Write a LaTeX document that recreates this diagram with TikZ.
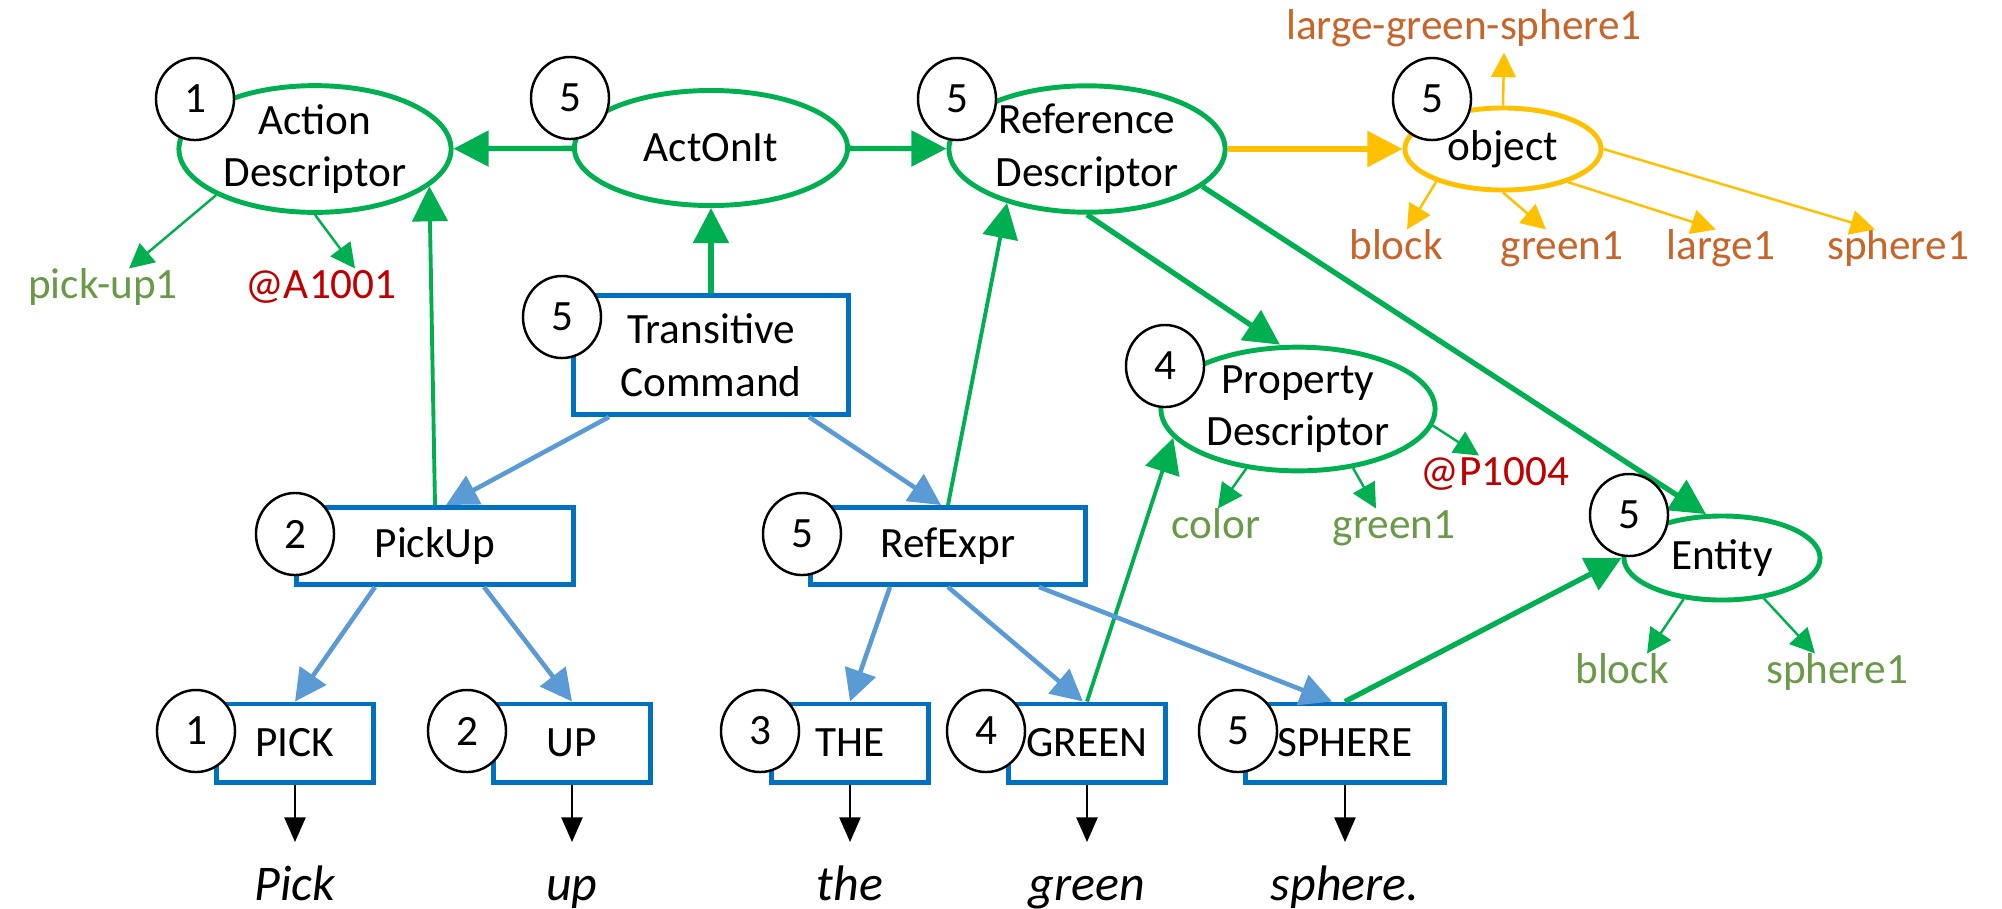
\documentclass[tikz,border=0pt]{standalone}
\usepackage{fontspec}
\setmainfont{Carlito}
\usetikzlibrary{shapes.geometric,arrows.meta}
\definecolor{dgreen}{HTML}{00B050}
\definecolor{lblue}{HTML}{5B9BD5}
\definecolor{bblue}{HTML}{0070C0}
\definecolor{gold}{HTML}{FFC000}
\definecolor{otext}{HTML}{C8652A}
\definecolor{gtext}{HTML}{6A9A48}
\definecolor{rtext}{HTML}{C00000}

\begin{document}
\begin{tikzpicture}[x=0.01cm,y=-0.01cm,font=\fontsize{12.3}{15}\selectfont]

  \tikzstyle{desc}=[draw=dgreen,ellipse,line width=1.4pt,fill=white,align=center,inner sep=0pt]
  \tikzstyle{cons}=[draw=bblue,rectangle,line width=1.4pt,fill=white,align=center,inner sep=0pt]
  \tikzstyle{numcirc}=[draw,ellipse,line width=0.7pt,fill=white,minimum width=0.78cm,minimum height=0.82cm,inner sep=0pt]
  \tikzstyle{attr}=[inner sep=0.05cm,text height=.7em,text depth=.2em]
  \tikzstyle{word}=[anchor=north,font=\fontsize{14.2}{17}\selectfont\itshape,inner sep=0pt,inner ysep=0.2cm,text height=0.38cm,text depth=0.12cm]
  \tikzstyle{garrow}=[color=dgreen,line width=1.5pt,-{Triangle[length=10pt,width=10pt]}]
  \tikzstyle{barrow}=[color=lblue,line width=1.3pt,-{Triangle[length=9pt,width=9pt]}]
  \tikzstyle{attrarrow}=[line width=0.7pt,-{Triangle[length=7pt,width=7pt]}]
  \tikzstyle{warrow}=[line width=0.6pt,-{Triangle[length=7pt,width=6pt]}]

  \useasboundingbox (0,0) rectangle (2002,908);

  % descriptors
  \foreach \name/\x/\y/\w/\h/\text in {ad/315/149/2.72/1.15/Action\\Descriptor,
                                       act/711/148/2.73/1.15/ActOnIt,
                                       rd/1087/149/2.76/1.15/Reference\\Descriptor,
                                       pd/1298/409/2.74/1.17/Property\\Descriptor,
                                       ent/1722/558/1.96/0.84/Entity}
    \node[desc,minimum width=\w cm,minimum height=\h cm] (\name) at (\x,\y) {\text};
  \node[desc,draw=gold,minimum width=1.96cm,minimum height=0.82cm] (obj) at (1503,149) {object};

  % constructions
  \node[cons,minimum width=2.74cm,minimum height=1.19cm] (tc) at (711,355) {Transitive\\Command};
  \node[cons,minimum width=2.76cm,minimum height=0.77cm] (pu) at (435,546) {PickUp};
  \node[cons,minimum width=2.74cm,minimum height=0.77cm] (re) at (948,546) {RefExpr};
  \foreach \name/\x/\w/\text in {w1/295/1.57/PICK, w2/572/1.57/UP, w3/850/1.57/THE,
                                 w4/1087/1.57/GREEN, w5/1345/1.99/SPHERE}
    \node[cons,minimum width=\w cm,minimum height=0.78cm] (\name) at (\x,743) {\text};

  \foreach \i/\x/\text in {1/295/Pick, 2/572/up, 3/850/the, 4/1087/green, 5/1345/sphere.}
    \node[word] (t\i) at (\x,842) {\text};

  % values
  \foreach \name/\x/\y/\col/\text in {l1/103/290/gtext/pick-up1, l2/321/290/rtext/@A1001,
                                      l3/1216/530/gtext/color, l4/1394/530/gtext/green1,
                                      l5/1495/477/rtext/@P1004, l6/1622/675/gtext/block,
                                      l7/1837/675/gtext/sphere1,
                                      o1/1464/31/otext/large-green-sphere1, o2/1396/251/otext/block,
                                      o3/1562/251/otext/green1, o4/1721/251/otext/large1,
                                      o5/1898/251/otext/sphere1}
    \node[attr,text=\col] (\name) at (\x,\y) {\text};

  % links
  \draw[garrow] (act) -- (ad);
  \draw[garrow] (act) -- (rd);
  \draw[garrow] (tc) -- (act);
  \draw[garrow,color=gold] (rd) -- (obj);
  \draw[garrow] (rd.south) -- ([xshift=-0.18cm]pd.north);
  \draw[garrow] (rd.342) -- (ent.110);
  \draw[garrow] (w5.north) -- (ent.west);
  \draw[garrow,line width=1.1pt] (pu.north) -- (ad.342);
  \draw[garrow,line width=1.1pt] (re.north) -- (rd.214);
  \draw[garrow,line width=1.1pt] (w4.north) -- (pd.193);

  \foreach \from/\dxa/\to/\dxb in {tc/-1.02/pu/0.11, tc/0.98/re/-0.07,
                                   pu/-0.60/w1/0, pu/0.49/w2/0,
                                   re/-0.58/w3/0, re/0/w4/-0.04, re/0.91/w5/-0.13}
    \draw[barrow] ([xshift=\dxa cm]\from.south) -- ([xshift=\dxb cm]\to.north);

  \foreach \i in {1,...,5}
    \draw[warrow] (w\i) -- (t\i);

  \foreach \from/\ang/\to/\dx in {ad/205/l1/0.26, ad/270/l2/0.34, pd/229/l3/0.02,
                                  pd/313/l4/-0.18, pd/353/l5/-0.16, ent/227/l6/0.25,
                                  ent/316/l7/-0.22}
    \draw[attrarrow,dgreen] (\from.\ang) -- ([xshift=\dx cm]\to.north);

  \draw[attrarrow,gold] (obj.north) -- ([xshift=0.4cm]o1.south);
  \foreach \ang/\to/\dx in {206/o2/0.11, 270/o3/-0.16, 333/o4/-0.05, 0/o5/-0.23}
    \draw[attrarrow,gold] (obj.\ang) -- ([xshift=\dx cm]\to.north);

  % counts
  \foreach \name/\x/\y/\num in {ad/195/99/1, act/570/98/5, rd/957/99/5, obj/1432/99/5,
                                tc/562/317/5, pu/295/534/2, re/802/534/5, pd/1165/366/4,
                                ent/1629/515/5, w1/196/731/1, w2/467/731/2, w3/760/731/3,
                                w4/986/731/4, w5/1238/731/5}
    \node[numcirc] (n-\name) at (\x,\y) {\num};
\end{tikzpicture}
\end{document}
